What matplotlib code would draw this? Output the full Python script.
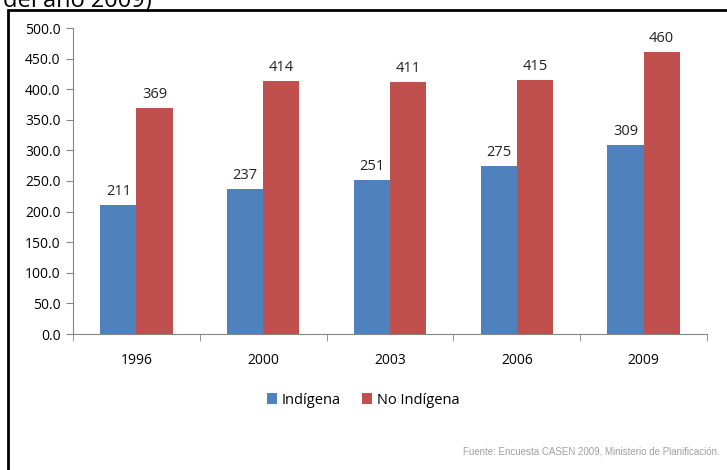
import numpy as np
import matplotlib.pyplot as plt
from matplotlib.patches import Rectangle

plt.rcParams['font.family'] = ['Open Sans', 'DejaVu Sans']

years = ['1996', '2000', '2003', '2006', '2009']
indigena = [211, 237, 251, 275, 309]
no_indigena = [369, 414, 411, 415, 460]

blue = '#4F81BD'
red = '#C0504D'

fig = plt.figure(figsize=(7.27, 4.70), dpi=100)
ax = fig.add_axes([73 / 727, 1 - 334 / 470, 634 / 727, 306 / 470])

x = np.arange(len(years))
w = 0.285
b1 = ax.bar(x - w / 2, indigena, w, color=blue, label='Indígena')
b2 = ax.bar(x + w / 2, no_indigena, w, color=red, label='No Indígena')

for bars, vals in ((b1, indigena), (b2, no_indigena)):
    for r, v in zip(bars, vals):
        ax.text(r.get_x() + r.get_width() / 2, v + 10, str(v),
                ha='center', va='bottom', fontsize=10.5, color='#222222')

ax.set_xlim(-0.5, len(years) - 0.5)
ax.set_ylim(0, 500)
ax.set_yticks(np.arange(0, 501, 50))
ax.set_yticklabels(['%.1f' % v for v in np.arange(0, 501, 50)])
ax.set_xticks(x)
ax.set_xticklabels(years)
ax.set_xticks(np.arange(-0.5, len(years), 1), minor=True)
ax.tick_params(axis='x', which='major', length=0, pad=14, labelsize=10)
ax.tick_params(axis='x', which='minor', length=5, color='#868686', direction='out')
ax.tick_params(axis='y', length=5, color='#868686', labelsize=10, pad=4)
for s in ('top', 'right'):
    ax.spines[s].set_visible(False)
for s in ('left', 'bottom'):
    ax.spines[s].set_color('#868686')

fig.legend(handles=[b1, b2], loc='center', bbox_to_anchor=(363 / 727, 1 - 400 / 470),
           ncol=2, frameon=False, fontsize=10.5, handlelength=0.7, handleheight=0.7,
           handletextpad=0.3, columnspacing=1.5)

fig.text(720 / 727, 1 - 452 / 470, 'Fuente: Encuesta CASEN 2009, Ministerio de Planificación.',
         ha='right', va='center', fontsize=7, color='#A0A0A0', family=['Liberation Sans'])

fig.text(3 / 727, 1 + 11 / 470, 'del año 2009)', ha='left', va='top', fontsize=17, color='black')

fig.patches.append(Rectangle((8 / 727, -0.05), 740 / 727, 1 - 10 / 470 + 0.05,
                             transform=fig.transFigure, fill=False, lw=2, ec='black'))

fig.savefig('out.png', dpi=100)
